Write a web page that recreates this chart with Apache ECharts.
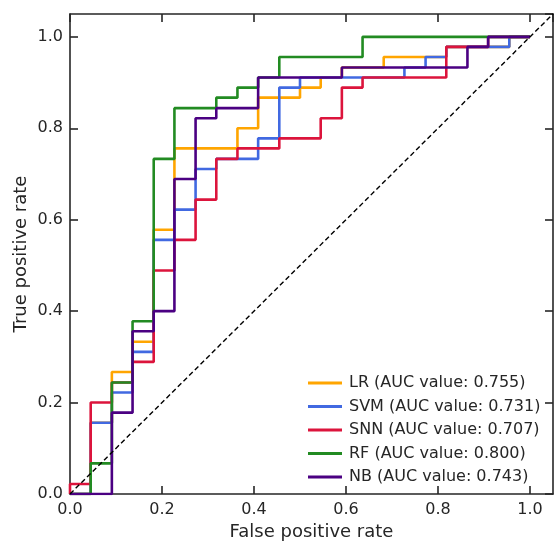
<!DOCTYPE html>
<html>
<head>
<meta charset="utf-8">
<script src="https://cdn.jsdelivr.net/npm/echarts@6/dist/echarts.min.js"></script>
<style>
html,body{margin:0;padding:0;background:#fff;}
#chart{width:554px;height:546px;}
</style>
</head>
<body>
<div id="chart"></div>
<script>
// ROC corner points
const seriesNames = ['LR (AUC value: 0.755)', 'SVM (AUC value: 0.731)', 'SNN (AUC value: 0.707)', 'RF (AUC value: 0.800)', 'NB (AUC value: 0.743)'];
const seriesColors = ['#FFA500', '#4169E1', '#DC143C', '#228B22', '#4B0082'];

const lrFpr = [0, 0.045, 0.045, 0.091, 0.091, 0.136, 0.136, 0.182, 0.182, 0.227, 0.227, 0.364, 0.364, 0.409, 0.409, 0.5, 0.5, 0.545, 0.545, 0.591, 0.591, 0.682, 0.682, 0.818, 0.818, 0.955, 0.955, 1];
const lrTpr = [0, 0, 0.156, 0.156, 0.267, 0.267, 0.333, 0.333, 0.578, 0.578, 0.756, 0.756, 0.8, 0.8, 0.867, 0.867, 0.889, 0.889, 0.911, 0.911, 0.933, 0.933, 0.956, 0.956, 0.978, 0.978, 1, 1];

const svmFpr = [0, 0.045, 0.045, 0.091, 0.091, 0.136, 0.136, 0.182, 0.182, 0.227, 0.227, 0.273, 0.273, 0.318, 0.318, 0.409, 0.409, 0.455, 0.455, 0.5, 0.5, 0.727, 0.727, 0.773, 0.773, 0.818, 0.818, 0.955, 0.955, 1];
const svmTpr = [0, 0, 0.156, 0.156, 0.222, 0.222, 0.311, 0.311, 0.556, 0.556, 0.622, 0.622, 0.711, 0.711, 0.733, 0.733, 0.778, 0.778, 0.889, 0.889, 0.911, 0.911, 0.933, 0.933, 0.956, 0.956, 0.978, 0.978, 1, 1];

const snnFpr = [0, 0, 0.045, 0.045, 0.091, 0.091, 0.136, 0.136, 0.182, 0.182, 0.227, 0.227, 0.273, 0.273, 0.318, 0.318, 0.364, 0.364, 0.455, 0.455, 0.545, 0.545, 0.591, 0.591, 0.636, 0.636, 0.818, 0.818, 0.909, 0.909, 1];
const snnTpr = [0, 0.022, 0.022, 0.2, 0.2, 0.244, 0.244, 0.289, 0.289, 0.489, 0.489, 0.556, 0.556, 0.644, 0.644, 0.733, 0.733, 0.756, 0.756, 0.778, 0.778, 0.822, 0.822, 0.889, 0.889, 0.911, 0.911, 0.978, 0.978, 1, 1];

const rfFpr = [0, 0.045, 0.045, 0.091, 0.091, 0.136, 0.136, 0.182, 0.182, 0.227, 0.227, 0.318, 0.318, 0.364, 0.364, 0.409, 0.409, 0.455, 0.455, 0.636, 0.636, 1];
const rfTpr = [0, 0, 0.067, 0.067, 0.244, 0.244, 0.378, 0.378, 0.733, 0.733, 0.844, 0.844, 0.867, 0.867, 0.889, 0.889, 0.911, 0.911, 0.956, 0.956, 1, 1];

const nbFpr = [0, 0.091, 0.091, 0.136, 0.136, 0.182, 0.182, 0.227, 0.227, 0.273, 0.273, 0.318, 0.318, 0.409, 0.409, 0.591, 0.591, 0.864, 0.864, 0.909, 0.909, 1];
const nbTpr = [0, 0, 0.178, 0.178, 0.356, 0.356, 0.4, 0.4, 0.689, 0.689, 0.822, 0.822, 0.844, 0.844, 0.911, 0.911, 0.933, 0.933, 0.978, 0.978, 1, 1];

const chanceX = [0, 1.05];
const chanceY = [0, 1.05];

const xTickLabels = ['0.0', '0.2', '0.4', '0.6', '0.8', '1.0'];
const yTickLabels = ['0.0', '0.2', '0.4', '0.6', '0.8', '1.0'];

const fprs = [lrFpr, svmFpr, snnFpr, rfFpr, nbFpr];
const tprs = [lrTpr, svmTpr, snnTpr, rfTpr, nbTpr];

const FONT = 'DejaVu Sans';
const TXT = '#262626';

function fmt(labels) {
  return function (v) {
    const s = v.toFixed(1);
    return (Math.abs(v * 10 - Math.round(v * 10)) < 1e-6 && labels.indexOf(s) >= 0) ? s : '';
  };
}

const baseAxis = {
  type: 'value', min: 0, max: 1.05, interval: 0.2,
  axisLine: { show: true, onZero: false, lineStyle: { color: TXT, width: 1.6 } },
  axisTick: { show: true, inside: true, length: 8, lineStyle: { color: TXT, width: 1.6 } },
  splitLine: { show: false }
};

const series = seriesNames.map((name, i) => ({
  name: name,
  type: 'line',
  xAxisIndex: 0, yAxisIndex: 0,
  data: fprs[i].map((x, j) => [x, tprs[i][j]]),
  showSymbol: false, symbol: 'none',
  lineStyle: { color: seriesColors[i], width: 2.6 },
  itemStyle: { color: seriesColors[i] },
  z: 3 + i,
  animation: false
}));

series.push({
  name: 'chance',
  type: 'line',
  data: chanceX.map((x, j) => [x, chanceY[j]]),
  showSymbol: false, symbol: 'none',
  lineStyle: { color: '#000', width: 1.4, type: [5, 3] },
  z: 10,
  animation: false
});

const chart = echarts.init(document.getElementById('chart'), null, { renderer: 'canvas' });
chart.setOption({
  animation: false,
  backgroundColor: '#fff',
  grid: { left: 70, right: 1, top: 14, bottom: 48, containLabel: false },
  xAxis: [
    Object.assign({}, baseAxis, {
      position: 'bottom',
      name: 'False positive rate', nameLocation: 'middle', nameGap: 29, nameMoveOverlap: false,
      nameTextStyle: { color: TXT, fontSize: 18, fontFamily: FONT },
      axisLabel: { color: TXT, fontSize: 16, fontFamily: FONT, margin: 8, formatter: fmt(xTickLabels), showMaxLabel: false }
    }),
    Object.assign({}, baseAxis, { position: 'top', axisLabel: { show: false } })
  ],
  yAxis: [
    Object.assign({}, baseAxis, {
      position: 'left',
      name: 'True positive rate', nameLocation: 'middle', nameGap: 39.5, nameMoveOverlap: false,
      nameTextStyle: { color: TXT, fontSize: 18, fontFamily: FONT },
      axisLabel: { color: TXT, fontSize: 16, fontFamily: FONT, margin: 7, formatter: fmt(yTickLabels), showMaxLabel: false }
    }),
    Object.assign({}, baseAxis, { position: 'right', axisLabel: { show: false } })
  ],
  legend: {
    data: seriesNames,
    orient: 'vertical',
    left: 303, top: 370,
    icon: 'rect',
    itemWidth: 34, itemHeight: 3,
    itemGap: 7.5,
    textStyle: { color: TXT, fontSize: 16, fontFamily: FONT, lineHeight: 16, padding: [0, 0, 0, 2] }
  },
  series: series
});
</script>
</body>
</html>
